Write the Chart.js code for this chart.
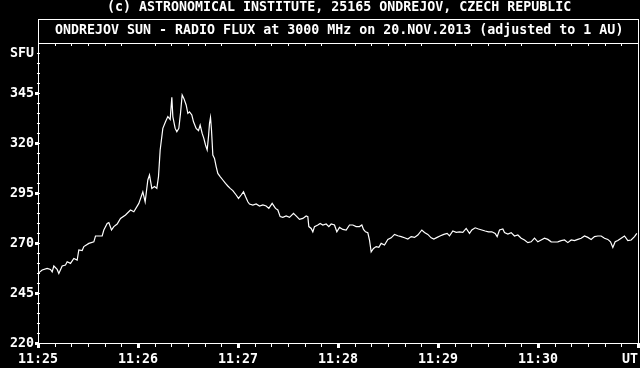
<!DOCTYPE html>
<html>
<head>
<meta charset="utf-8">
<script src="https://cdn.jsdelivr.net/npm/chart.js@4/dist/chart.umd.min.js"></script>
<style>
  html, body { margin: 0; padding: 0; background: #000; }
  canvas { display: block; }
</style>
</head>
<body>
<canvas id="chart" width="640" height="368"></canvas>
<script>
// seconds after 11:25:00 UT
const seconds = [
  0, 2.5, 5.5, 7.5, 8.5, 9.5, 11.5, 12.5, 14.5, 16.5, 17.5, 19.5, 21.5, 23.5, 24.5, 26.5, 27.5,
  30.5, 33.5, 34.5, 38.5, 39.5, 41.5, 42.5, 44.1, 45.5, 47.5, 49.5, 52.5, 55.5, 57.5, 60.5,
  62.9, 64.3, 65.9, 66.9, 68.3, 69.9, 71.3, 72.3, 73.3, 74.9, 76.5, 77.9, 79.3, 80.3, 80.9,
  82.3, 83.3, 84.5, 85.5, 86.5, 87.5, 88.9, 89.9, 90.9, 92.3, 93.3, 94.9, 96.3, 97.3, 98.5,
  99.5, 100.5, 101.5, 102.3, 102.9, 103.5, 104.1, 104.9, 105.9, 106.9, 107.9, 109.3, 110.9,
  112.5, 113.9, 115.3, 116.9, 118.9, 120.3, 121.9, 123.3, 124.5, 125.9, 126.9, 128.9, 130.9,
  132.9, 134.9, 136.9, 138.5, 140.5, 142.5, 143.9, 145.3, 146.9, 148.9, 150.9, 153.3, 155.3,
  156.9, 158.9, 160.9, 161.9, 162.5, 163.9, 164.9, 165.9, 167.9, 169.3, 170.9, 172.9, 174.5,
  175.9, 177.9, 179.3, 180.9, 182.9, 184.9, 186.9, 188.9, 190.9, 192.9, 194.3, 195.3, 196.5,
  197.9, 198.9, 199.9, 201.3, 202.9, 204.5, 205.9, 207.9, 209.9, 211.9, 213.9, 215.9, 217.9,
  219.9, 221.9, 223.9, 225.9, 227.9, 230.3, 231.9, 233.9, 235.9, 237.5, 239.5, 241.5, 243.5,
  245.5, 246.9, 248.9, 250.9, 252.9, 254.9, 256.9, 258.9, 260.3, 262.3, 264.3, 266.3, 268.3,
  270.3, 272.3, 274.3, 275.5, 276.9, 278.9, 279.9, 281.9, 283.9, 285.9, 287.9, 289.9, 291.9,
  293.9, 295.9, 297.9, 299.9, 301.9, 303.9, 305.9, 307.9, 309.9, 311.9, 313.9, 315.9, 317.9,
  319.9, 321.9, 323.9, 325.9, 327.9, 329.9, 331.9, 333.9, 335.9, 337.9, 339.9, 341.9, 343.5,
  344.9, 346.3, 347.9, 349.9, 351.9, 353.9, 355.9, 357.9, 359.3
];
// radio flux, SFU
const flux = [
  254.8, 256.5, 257.3, 256.8, 255.6, 258.5, 256.8, 254.8, 258.5, 259.0, 260.6, 259.8, 262.3, 261.5, 266.5, 266.2, 268.2,
  269.8, 270.6, 273.5, 273.5, 276.5, 279.8, 280.2, 276.5, 278.2, 279.5, 282.3, 284.0, 286.5, 285.6, 289.8,
  295.6, 290.6, 301.5, 304.0, 297.3, 298.2, 297.3, 303.2, 316.5, 327.3, 330.6, 333.2, 331.8, 342.8, 333.2,
  327.3, 325.6, 327.3, 334.8, 344.0, 342.3, 339.0, 334.8, 335.6, 334.0, 330.6, 327.3, 326.2, 329.0, 324.8,
  322.3, 319.0, 316.5, 323.2, 329.8, 332.8, 326.5, 314.0, 312.3, 308.2, 304.8, 303.2, 301.5,
  299.8, 298.5, 297.3, 296.2, 294.0, 292.3, 294.0, 295.6, 293.2, 290.6, 289.5, 289.0, 289.5,
  288.5, 289.0, 288.5, 287.3, 289.8, 287.3, 286.5, 283.2, 282.8, 283.5, 282.8, 284.8, 283.2,
  281.8, 282.3, 283.5, 283.2, 278.2, 277.3, 275.6, 278.2, 279.0, 279.8, 279.0, 279.5, 278.2,
  279.5, 279.0, 275.6, 277.8, 276.8, 276.5, 279.0, 279.0, 278.2, 278.2, 279.0, 276.8, 275.6,
  275.1, 271.5, 265.6, 267.3, 268.2, 267.8, 269.8, 269.0, 271.8, 272.6, 274.3, 273.6, 273.2,
  272.6, 272.0, 273.2, 272.8, 274.0, 276.5, 275.3, 274.3, 272.6, 272.0, 272.8, 273.6, 274.3,
  274.8, 273.6, 276.0, 275.3, 275.6, 275.3, 277.3, 274.8, 276.5, 277.6, 277.0, 276.5, 276.0,
  275.6, 275.6, 274.8, 273.2, 276.5, 277.0, 275.2, 274.5, 275.2, 273.5, 274.0, 272.4, 271.5,
  270.2, 270.6, 272.4, 270.6, 271.5, 272.4, 271.8, 270.6, 270.5, 270.6, 271.2, 271.5, 270.2,
  271.5, 271.2, 271.8, 272.4, 273.5, 272.8, 271.8, 273.2, 273.5, 273.5, 272.4, 271.8, 270.6,
  267.8, 270.6, 271.2, 272.4, 273.5, 271.2, 271.5, 273.2, 274.8
];

const xTickLabels = ['11:25', '11:26', '11:27', '11:28', '11:29', '11:30', 'UT'];
const yTickLabels = ['220', '245', '270', '295', '320', '345'];
const yTickValues = [220, 245, 270, 295, 320, 345];
const unitLabel = 'SFU';
const unitValue = 365;
const titleTop = '(c) ASTRONOMICAL INSTITUTE, 25165 ONDREJOV, CZECH REPUBLIC';
const titleMain = 'ONDREJOV SUN - RADIO FLUX at 3000 MHz on 20.NOV.2013 (adjusted to 1 AU)';

const FONT = 'bold 13.3px "DejaVu Sans Mono", "Liberation Mono", monospace';

// frame, ticks and texts in the old ondrejov plot style
const framePlugin = {
    id: 'frame',
    beforeDraw(chart) {
        const ctx = chart.ctx;
        ctx.save();
        ctx.fillStyle = '#000';
        ctx.fillRect(0, 0, chart.width, chart.height);
        ctx.restore();
    },
    afterDraw(chart) {
        const { ctx, chartArea: a, scales: { x, y } } = chart;
        const boxTop = 19;
        ctx.save();
        ctx.fillStyle = '#fff';

        // box around title and plot
        ctx.fillRect(a.left, boxTop, a.right - a.left + 1, 1);
        ctx.fillRect(a.left, a.top, a.right - a.left + 1, 1);
        ctx.fillRect(a.left, a.bottom, a.right - a.left + 1, 1);
        ctx.fillRect(a.left, boxTop, 1, a.bottom - boxTop + 1);
        ctx.fillRect(a.right, boxTop, 1, a.bottom - boxTop + 1);

        // time ticks every 10 s
        for (let s = 0; s <= 360; s += 10) {
            const px = Math.round(x.getPixelForValue(s));
            if (s % 60 === 0) {
                ctx.fillRect(px - 1, a.bottom, 3, 5);
            } else {
                ctx.fillRect(px, a.bottom, 1, 4);
                ctx.fillRect(px, a.top + 1, 1, 2);
            }
        }

        // flux ticks every 5 SFU
        for (let v = 225; v < 370; v += 5) {
            const py = Math.round(y.getPixelForValue(v));
            ctx.fillRect(a.left - 1, py, 3, 1);
        }
        yTickValues.forEach(v => {
            const py = Math.round(y.getPixelForValue(v));
            ctx.fillRect(a.left - 3, py - 1, 3, 3);
        });

        ctx.font = FONT;
        ctx.textBaseline = 'middle';

        // y labels
        ctx.textAlign = 'right';
        yTickValues.forEach((v, i) => {
            ctx.fillText(yTickLabels[i], 34, Math.round(y.getPixelForValue(v)) + 1);
        });
        ctx.fillText(unitLabel, 34, Math.round(y.getPixelForValue(unitValue)) + 1);

        // x labels
        xTickLabels.forEach((lab, i) => {
            const px = x.getPixelForValue(i * 60);
            if (lab === 'UT') {
                ctx.textAlign = 'right';
                ctx.fillText(lab, px, 360);
            } else {
                ctx.textAlign = 'center';
                ctx.fillText(lab, px, 360);
            }
        });

        // titles
        ctx.textAlign = 'left';
        ctx.fillText(titleTop, 107, 8);
        ctx.fillText(titleMain, 55, 31);
        ctx.restore();
    }
};

new Chart(document.getElementById('chart'), {
    type: 'line',
    data: {
        datasets: [{
            data: seconds.map((s, i) => ({ x: s, y: flux[i] })),
            borderColor: '#fff',
            borderWidth: 1.2,
            pointRadius: 0,
            tension: 0,
            fill: false
        }]
    },
    options: {
        responsive: false,
        animation: false,
        devicePixelRatio: 1,
        layout: { padding: { left: 38, top: 43, right: 2, bottom: 25 } },
        plugins: { legend: { display: false }, tooltip: { enabled: false } },
        scales: {
            x: { type: 'linear', min: 0, max: 360, display: false },
            y: { min: 220, max: 370, display: false }
        }
    },
    plugins: [framePlugin]
});
</script>
</body>
</html>
